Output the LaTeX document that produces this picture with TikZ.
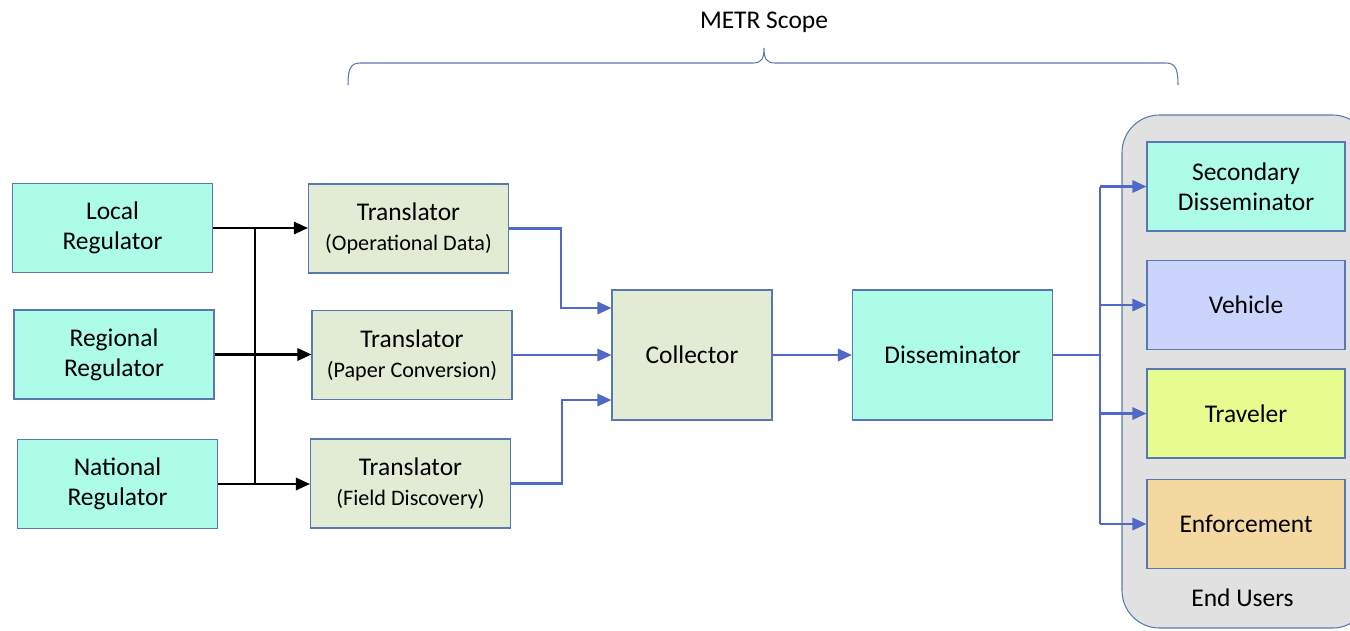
\documentclass[tikz,border=0pt]{standalone}
\usepackage{fontspec}
\setmainfont{Carlito}
\usetikzlibrary{arrows.meta}
\definecolor{aquafill}{HTML}{ADFCE8}
\definecolor{sagefill}{HTML}{E2EBD3}
\definecolor{lilacfill}{HTML}{CAD4FC}
\definecolor{limefill}{HTML}{E7FC8E}
\definecolor{sandfill}{HTML}{F3D8A0}
\definecolor{panelfill}{HTML}{E1E1E1}
\definecolor{edgeblue}{HTML}{5A78B0}
\definecolor{flowblue}{HTML}{5068C8}
\newcommand\subfont{\fontsize{12.6}{15}\selectfont}
\tikzset{
	box/.style={draw=edgeblue, line width=0.6pt, minimum width=4cm, minimum height=1.78cm, align=center, inner sep=0pt, font=\fontsize{14.5}{17}\selectfont},
	regbox/.style={box, fill=aquafill},
	transbox/.style={box, fill=sagefill},
	blackflow/.style={line width=1.3pt, -{Triangle[length=8pt,width=7pt]}},
	blueflow/.style={draw=flowblue, line width=1.3pt, -{Triangle[length=8pt,width=7pt]}},
}

\begin{document}
\begin{tikzpicture}
			%%%%% START %%%%%
			\useasboundingbox (0,0) rectangle (27,-12.6);
			
			\draw[draw=edgeblue, fill=panelfill, line width=0.6pt, rounded corners=0.75cm] (22.44,-2.3) rectangle (27.4,-12.56);
			\node (endusers) at (24.85,-11.96) {\fontsize{14.5}{17}\selectfont End Users};
			
			\node (scope) at (15.28,-0.44) {\fontsize{14.5}{17}\selectfont METR Scope};
			\draw[edgeblue, line width=0.6pt] (6.96,-1.7) .. controls (6.96,-1.4) and (7.0,-1.26) .. (7.2,-1.26) -- (15.06,-1.26) .. controls (15.24,-1.26) and (15.28,-1.16) .. (15.28,-0.96) .. controls (15.28,-1.16) and (15.32,-1.26) .. (15.5,-1.26) -- (23.32,-1.26) .. controls (23.52,-1.26) and (23.56,-1.4) .. (23.56,-1.7);
			
			\node[regbox] (local) at (2.25,-4.56) {Local\\Regulator};
			\node[regbox] (regional) at (2.28,-7.09) {Regional\\Regulator};
			\node[regbox] (national) at (2.35,-9.68) {National\\Regulator};
			
			\node[transbox] (opdata) at (8.17,-4.57) {Translator\\{\subfont (Operational Data)}};
			\node[transbox] (paper) at (8.24,-7.1) {Translator\\{\subfont (Paper Conversion)}};
			\node[transbox] (field) at (8.21,-9.67) {Translator\\{\subfont (Field Discovery)}};
			
			\node[transbox, minimum width=3.2cm, minimum height=2.6cm] (collector) at (13.84,-7.1) {Collector};
			\node[regbox, minimum height=2.6cm] (dissem) at (19.05,-7.1) {Disseminator};
			
			\node[regbox, minimum width=3.96cm] (secondary) at (24.92,-3.73) {Secondary\\Disseminator};
			\node[box, fill=lilacfill, minimum width=3.96cm] (vehicle) at (24.92,-6.1) {Vehicle};
			\node[box, fill=limefill, minimum width=3.96cm] (traveler) at (24.92,-8.27) {Traveler};
			\node[box, fill=sandfill, minimum width=3.96cm] (enforce) at (24.92,-10.48) {Enforcement};
			
			\coordinate (inbus) at (5.1,0);
			\coordinate (outbus) at (22,0);
			
			\draw[blackflow] (local.east) -- (local.east -| opdata.west);
			\draw[blackflow] (regional.east) -- (regional.east -| paper.west);
			\draw[blackflow] (national.east) -- (national.east -| field.west);
			\draw[line width=1.3pt] (local.east -| inbus) -- (national.east -| inbus);
			
			\draw[blueflow] (opdata.east) -- ++(1.04,0) |- ([yshift=0.94cm]collector.west);
			\draw[blueflow] (paper.east) -- (paper.east -| collector.west);
			\draw[blueflow] (field.east) -- ++(1.02,0) |- ([yshift=-0.9cm]collector.west);
			
			\draw[blueflow] (collector.east) -- (dissem.west);
			
			\draw[flowblue, line width=1.3pt] (dissem.east) -- (dissem.east -| outbus);
			\draw[flowblue, line width=1.3pt] (secondary.west -| outbus) -- (enforce.west -| outbus);
			\draw[blueflow] (secondary.west -| outbus) -- (secondary.west);
			\draw[blueflow] (vehicle.west -| outbus) -- (vehicle.west);
			\draw[blueflow] (traveler.west -| outbus) -- (traveler.west);
			\draw[blueflow] (enforce.west -| outbus) -- (enforce.west);
			%%%%% END %%%%%
\end{tikzpicture}
\end{document}
